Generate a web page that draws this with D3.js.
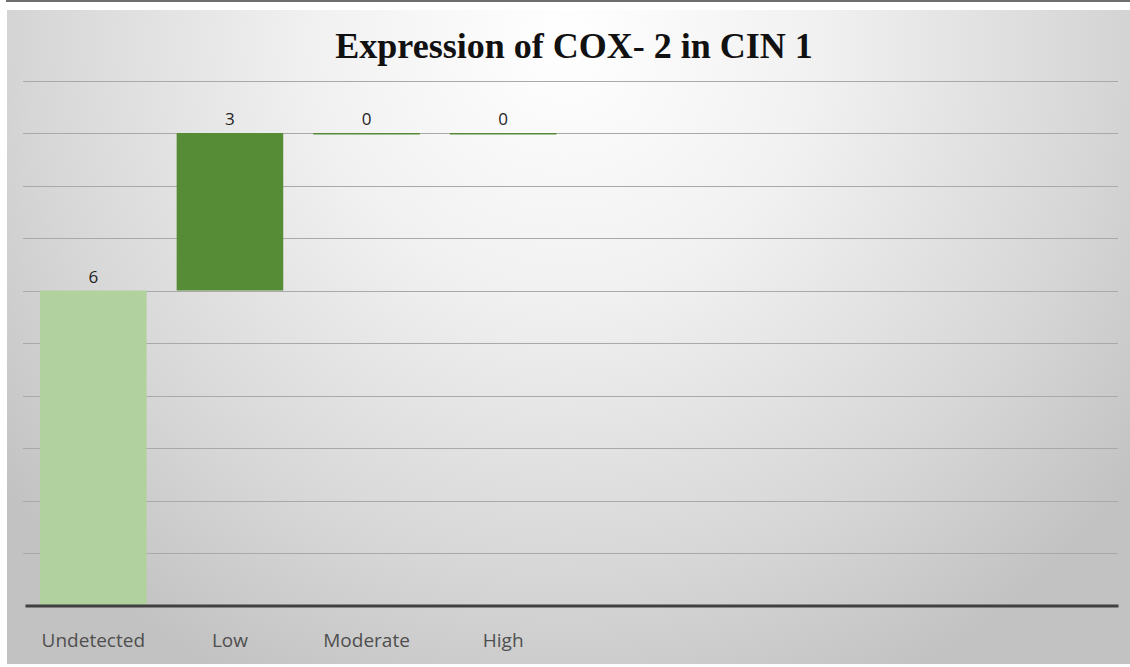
<!DOCTYPE html>
<html>
<head>
<meta charset="utf-8">
<script src="https://cdn.jsdelivr.net/npm/d3@7"></script>
<style>
  html, body { margin: 0; padding: 0; background: #fff; }
  svg { display: block; }
</style>
</head>
<body>
<div id="chart"></div>
<script>
// Waterfall data: each step adds its value on top of the running total
const categories = ["Undetected", "Low", "Moderate", "High"];
const values = [6, 3, 0, 0];
const slotCount = 8;           // the category axis reserves room for 8 slots
const yTicks = [0, 1, 2, 3, 4, 5, 6, 7, 8, 9, 10];
const titleText = "Expression of COX- 2 in CIN 1";

const W = 1130, H = 667;
const plot = { left: 25, right: 1118, top: 80.5, bottom: 605.5 };

const svg = d3.select("#chart").append("svg")
  .attr("width", W).attr("height", H);

// background panel with radial shading
const defs = svg.append("defs");
const grad = defs.append("radialGradient")
  .attr("id", "bg").attr("gradientUnits", "userSpaceOnUse")
  .attr("cx", 565).attr("cy", 40).attr("r", 720)
  .attr("fx", 565).attr("fy", 40);
grad.append("stop").attr("offset", "0%").attr("stop-color", "#ffffff");
grad.append("stop").attr("offset", "35%").attr("stop-color", "#f1f1f1");
grad.append("stop").attr("offset", "75%").attr("stop-color", "#d6d6d6");
grad.append("stop").attr("offset", "100%").attr("stop-color", "#c2c2c2");

svg.append("rect").attr("x", 6).attr("y", 0).attr("width", W - 6).attr("height", 2)
  .attr("fill", "#6f6f6f");
svg.append("rect").attr("x", 7).attr("y", 10).attr("width", W - 7).attr("height", 654)
  .attr("fill", "url(#bg)");

// scales
const slots = d3.range(slotCount).map(i => i < categories.length ? categories[i] : "_slot" + i);
const x = d3.scaleBand().domain(slots).range([plot.left, plot.right])
  .paddingInner(0.22).paddingOuter(0.11);
const y = d3.scaleLinear().domain([0, 10]).range([plot.bottom, plot.top]);

// gridlines
svg.append("g").selectAll("line")
  .data(yTicks.filter(t => t > 0))
  .join("line")
  .attr("x1", plot.left - 2).attr("x2", plot.right)
  .attr("y1", d => Math.round(y(d)) + 0.5).attr("y2", d => Math.round(y(d)) + 0.5)
  .attr("stroke", "#a9a9a9").attr("stroke-width", 1);

// running totals for waterfall bars
let running = 0;
const bars = categories.map((c, i) => {
  const start = running;
  running += values[i];
  return { cat: c, value: values[i], start, end: running, first: i === 0 };
});

const g = svg.append("g");
g.selectAll("rect.bar")
  .data(bars)
  .join("rect")
  .attr("class", "bar")
  .attr("x", d => x(d.cat))
  .attr("width", x.bandwidth())
  .attr("y", d => y(Math.max(d.start, d.end)))
  .attr("height", d => Math.max(1.5, Math.abs(y(d.start) - y(d.end))))
  .attr("fill", d => d.first ? "#b1d19f" : "#568c36");

// value labels
g.selectAll("text.val")
  .data(bars)
  .join("text")
  .attr("class", "val")
  .attr("x", d => x(d.cat) + x.bandwidth() / 2)
  .attr("y", d => y(Math.max(d.start, d.end)) - 8)
  .attr("text-anchor", "middle")
  .attr("font-family", "'Open Sans', 'DejaVu Sans', sans-serif")
  .attr("font-size", 17)
  .attr("fill", "#222")
  .text(d => d.value);

// category axis
const xAxis = d3.axisBottom(x).tickSize(0).tickFormat(d => d.startsWith("_slot") ? "" : d);
const ax = svg.append("g").attr("transform", `translate(0,${plot.bottom})`).call(xAxis);
ax.select(".domain").attr("stroke", "#404040").attr("stroke-width", 3);
ax.selectAll("text")
  .attr("dy", 0).attr("y", 41)
  .attr("font-family", "'Open Sans', 'DejaVu Sans', sans-serif")
  .attr("font-size", 19)
  .attr("fill", "#4f4f4f");

// title
svg.append("text")
  .attr("x", 574).attr("y", 58)
  .attr("text-anchor", "middle")
  .attr("font-family", "'Liberation Serif', 'Times New Roman', serif")
  .attr("font-weight", "bold")
  .attr("font-size", 36)
  .attr("fill", "#111")
  .text(titleText);
</script>
</body>
</html>
